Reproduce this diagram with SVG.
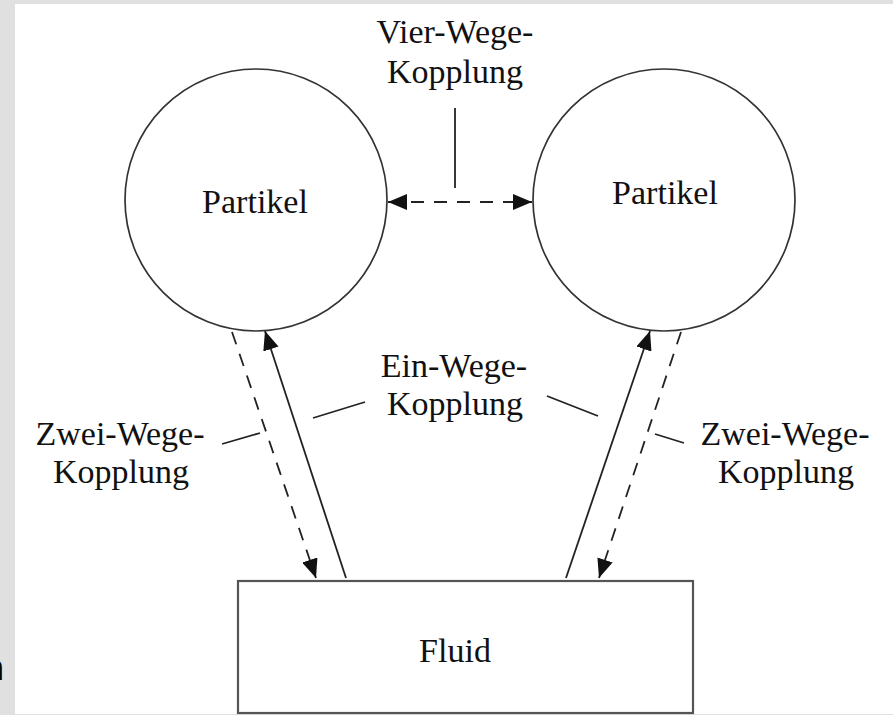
<svg xmlns="http://www.w3.org/2000/svg" width="893" height="715" viewBox="0 0 893 715">
  <style>
    .lbl { font-family: "Liberation Serif", "Times New Roman", serif; font-size: 34px; fill: #111; text-anchor: middle; }
    .node { fill: none; stroke: #333; stroke-width: 1.7; }
    .box { fill: #fff; stroke: #555; stroke-width: 2.2; }
    .solid { stroke: #222; stroke-width: 1.8; fill: none; }
    .dash { stroke: #222; stroke-width: 1.8; fill: none; stroke-dasharray: 13 10; }
    .lead { stroke: #222; stroke-width: 1.8; fill: none; }
  </style>
  <defs>
    <marker id="ah" markerUnits="userSpaceOnUse" markerWidth="20" markerHeight="16" refX="19" refY="8" orient="auto-start-reverse">
      <path d="M0,0 L19,8 L0,16 z" fill="#111" stroke="none"/>
    </marker>
  </defs>
  <rect x="0" y="0" width="893" height="715" fill="#e0e0e0"/>
  <rect x="15" y="4" width="878" height="710" fill="#fff"/>
  <text x="-18" y="680" font-family="Liberation Sans, Arial, sans-serif" font-size="36" font-weight="bold" fill="#000">n</text>

  <g id="partikel-left">
    <circle class="node" cx="256" cy="200" r="131"/>
    <text class="lbl" x="255" y="213">Partikel</text>
  </g>
  <g id="partikel-right">
    <circle class="node" cx="664" cy="200" r="131"/>
    <text class="lbl" x="665" y="204">Partikel</text>
  </g>
  <g id="fluid">
    <rect class="box" x="238" y="581" width="455" height="132"/>
    <text class="lbl" x="455" y="662">Fluid</text>
  </g>

  <g id="labels">
    <text class="lbl" x="455" y="43">Vier-Wege-</text>
    <text class="lbl" x="455" y="83">Kopplung</text>
    <text class="lbl" x="454" y="377">Ein-Wege-</text>
    <text class="lbl" x="455" y="415">Kopplung</text>
    <text class="lbl" x="120" y="445">Zwei-Wege-</text>
    <text class="lbl" x="121" y="483">Kopplung</text>
    <text class="lbl" x="785" y="445">Zwei-Wege-</text>
    <text class="lbl" x="786" y="483">Kopplung</text>
  </g>

  <g id="connectors">
    <line class="dash" x1="388" y1="202" x2="532" y2="202" marker-start="url(#ah)" marker-end="url(#ah)"/>
    <line class="lead" x1="455" y1="108" x2="455" y2="188"/>
    <line class="solid" x1="346" y1="578" x2="265" y2="331" marker-end="url(#ah)"/>
    <line class="dash" x1="232" y1="332" x2="316" y2="578" marker-end="url(#ah)"/>
    <line class="solid" x1="566" y1="578" x2="650" y2="331" marker-end="url(#ah)"/>
    <line class="dash" x1="681" y1="332" x2="599" y2="578" marker-end="url(#ah)"/>
    <line class="lead" x1="313" y1="418" x2="365" y2="402"/>
    <line class="lead" x1="547" y1="396" x2="598" y2="416"/>
    <line class="lead" x1="222" y1="444" x2="260" y2="433"/>
    <line class="lead" x1="655" y1="434" x2="684" y2="443"/>
  </g>
</svg>
